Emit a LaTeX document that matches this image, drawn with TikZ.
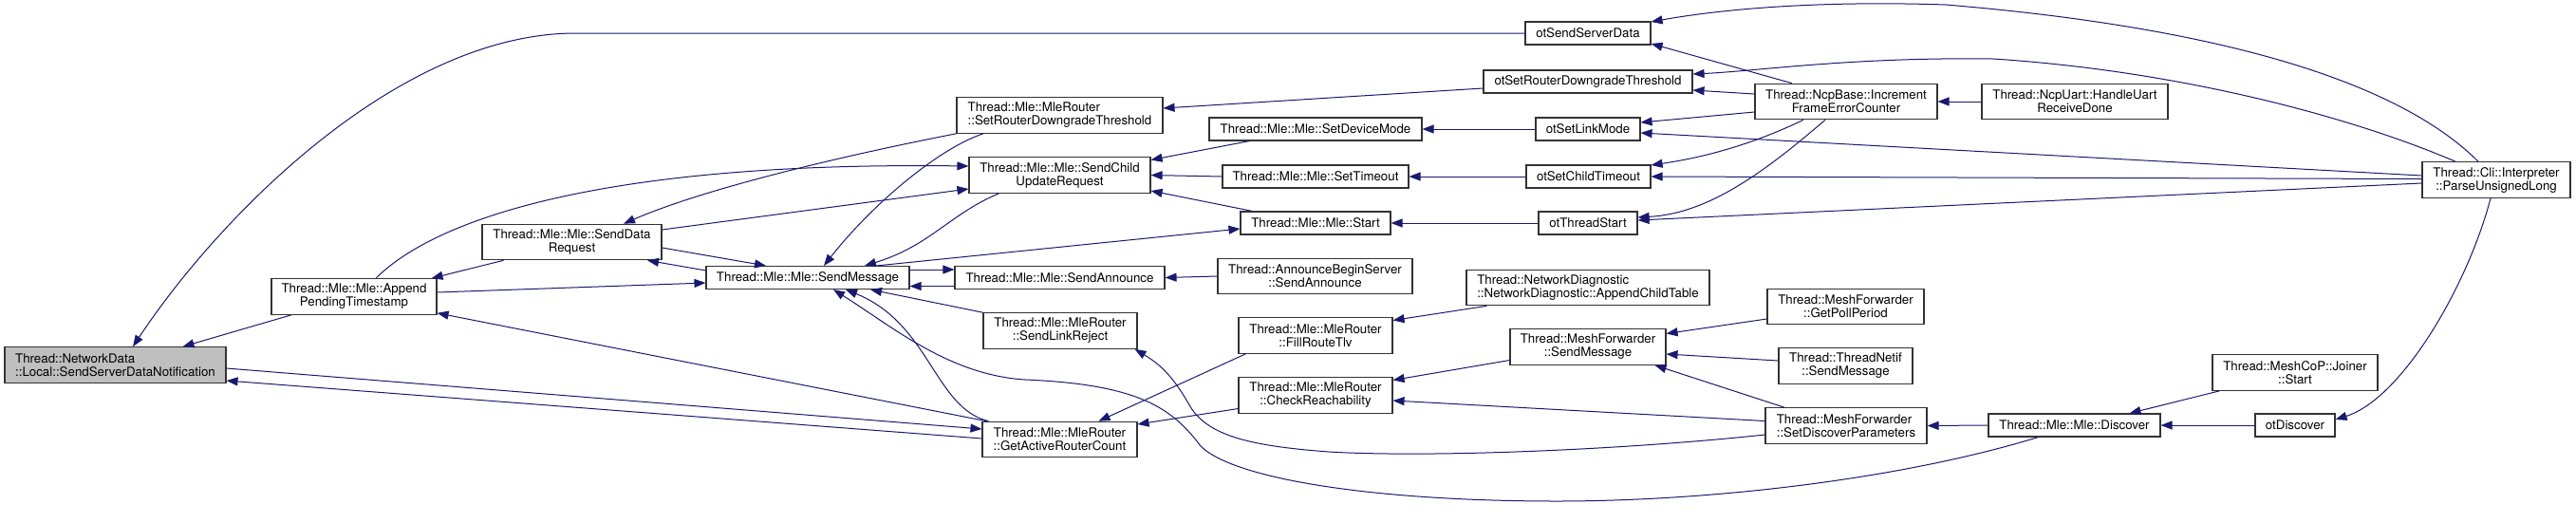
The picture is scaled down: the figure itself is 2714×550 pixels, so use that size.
\documentclass[tikz,border=0pt]{standalone}
\usepackage{fontspec}
\setmainfont{TeX Gyre Heros}
\usetikzlibrary{arrows.meta,calc}
\definecolor{EdgeBlue}{HTML}{191970}
\definecolor{CurGray}{HTML}{BFBFBF}

\begin{document}
\begin{tikzpicture}[x=1pt,y=-1pt,
  fn/.style={draw=black!80,line width=1.1pt,fill=white,inner sep=2pt,
    minimum height=24pt,align=center,font=\fontsize{13.3}{14}\selectfont},
  fn2/.style={fn,minimum height=37.5pt},
  cur/.style={fn2,fill=CurGray,align=left},
  call/.style={draw=EdgeBlue,line width=1pt,-{Triangle[length=12pt,width=9pt]}}]
  \fill[white] (0,0) rectangle (2714,550);
  \useasboundingbox (0,0) rectangle (2714,550);

  \node[cur,minimum width=233pt] (ssdn) at (121.5,384.5) {Thread::NetworkData\\::Local::SendServerDataNotification};
  \node[fn2,minimum width=174pt] (append) at (373,312.5) {Thread::Mle::Mle::Append\\PendingTimestamp};
  \node[fn2,minimum width=189pt] (sdr) at (602.5,255) {Thread::Mle::Mle::SendData\\Request};
  \node[fn,minimum width=214pt] (smsg) at (851,292.5) {Thread::Mle::Mle::SendMessage};
  \node[fn2,align=left,minimum width=217pt] (mrsrdt) at (1116.5,121.5) {Thread::Mle::MleRouter\\::SetRouterDowngradeThreshold};
  \node[fn2,minimum width=191pt] (scur) at (1116.5,184.5) {Thread::Mle::Mle::SendChild\\UpdateRequest};
  \node[fn,minimum width=221pt] (sann) at (1116.5,292.5) {Thread::Mle::Mle::SendAnnounce};
  \node[fn2,minimum width=162pt] (slr) at (1117,348.5) {Thread::Mle::MleRouter\\::SendLinkReject};
  \node[fn2,minimum width=163pt] (garc) at (1116.5,463) {Thread::Mle::MleRouter\\::GetActiveRouterCount};
  \node[fn,minimum width=224pt] (sdm) at (1386,136) {Thread::Mle::Mle::SetDeviceMode};
  \node[fn,minimum width=196pt] (sto) at (1386,186) {Thread::Mle::Mle::SetTimeout};
  \node[fn,minimum width=158pt] (mstart) at (1386,235) {Thread::Mle::Mle::Start};
  \node[fn2,minimum width=205pt] (abs) at (1385.5,291) {Thread::AnnounceBeginServer\\::SendAnnounce};
  \node[fn2,minimum width=162pt] (frt) at (1386,353.5) {Thread::Mle::MleRouter\\::FillRouteTlv};
  \node[fn2,minimum width=162pt] (crch) at (1386,416.5) {Thread::Mle::MleRouter\\::CheckReachability};
  \node[fn,minimum width=132pt] (otssd) at (1673,35) {otSendServerData};
  \node[fn,minimum width=220pt] (otsrdt) at (1673,86) {otSetRouterDowngradeThreshold};
  \node[fn,minimum width=110pt] (otslm) at (1673,136) {otSetLinkMode};
  \node[fn,minimum width=131pt] (otsct) at (1673.5,186) {otSetChildTimeout};
  \node[fn,minimum width=104pt] (otts) at (1673,235) {otThreadStart};
  \node[fn2,align=left,minimum width=256pt] (nd) at (1673,303) {Thread::NetworkDiagnostic\\::NetworkDiagnostic::AppendChildTable};
  \node[fn2,minimum width=164pt] (mfsm) at (1673,365.5) {Thread::MeshForwarder\\::SendMessage};
  \node[fn2,minimum width=192pt] (ifec) at (1945,107) {Thread::NcpBase::Increment\\FrameErrorCounter};
  \node[fn2,minimum width=165pt] (gpp) at (1944.5,323) {Thread::MeshForwarder\\::GetPollPeriod};
  \node[fn2,minimum width=141pt] (tnsm) at (1944.5,385.5) {Thread::ThreadNetif\\::SendMessage};
  \node[fn2,align=left,minimum width=170pt] (sdp) at (1945,448.5) {Thread::MeshForwarder\\::SetDiscoverParameters};
  \node[fn2,minimum width=196pt] (uart) at (2186,107) {Thread::NcpUart::HandleUart\\ReceiveDone};
  \node[fn,minimum width=181pt] (disc) at (2185.5,448) {Thread::Mle::Mle::Discover};
  \node[fn2,minimum width=174pt] (joiner) at (2418,392.5) {Thread::MeshCoP::Joiner\\::Start};
  \node[fn,minimum width=84pt] (otdisc) at (2418,448) {otDiscover};
  \node[fn2,minimum width=156pt] (pul) at (2630,189.5) {Thread::Cli::Interpreter\\::ParseUnsignedLong};

  \draw[call] (otssd.west) -- ++(-1000,0) .. controls +(-187,0) and +(90,-136) .. ($(ssdn.north)+(18.5,0)$);
  \draw[call] ($(append.south)+(-66,0)$) -- ($(ssdn.north)+(71,0)$);
  \draw[call] ($(garc.west)+(0,-1)$) -- ($(ssdn.east)+(0,16.5)$);
  \draw[call] ($(ssdn.east)+(0,3.5)$) -- ($(garc.west)+(0,-11)$);
  \draw[call] ($(sdr.south)+(-72,0)$) -- ($(append.north east)+(-6,0)$);
  \draw[call] ($(append.east)+(0,-4.5)$) -- ($(smsg.west)+(0,5.5)$);
  \draw[call] ($(garc.north west)+(5,0)$) -- ($(append.south east)+(0,-2)$);
  \draw[call] ($(append.north)+(23,0)$) .. controls +(64,-64) and +(-381,-5) .. ($(scur.west)+(0,-9.5)$);
  \draw[call] ($(sdr.east)+(0,-13)$) -- ($(scur.west)+(0,14.5)$);
  \draw[call] (mrsrdt.south west) .. controls +(-128,25) and +(83,-36) .. ($(sdr.north)+(54.5,0)$);
  \draw[call] ($(sdr.east)+(0,6)$) -- ($(smsg.north)+(-44,0)$);
  \draw[call] ($(smsg.north west)+(0,5)$) -- ($(sdr.south)+(79.5,0)$);
  \draw[call] ($(mrsrdt.south)+(-80.5,0)$) .. controls +(-46,15) and +(52,-66) .. ($(smsg.north)+(17,0)$);
  \draw[call] ($(scur.south)+(-64,0)$) .. controls +(-52.5,22) and +(69,-21) .. ($(smsg.north)+(60,0)$);
  \draw[call] ($(smsg.north east)+(-35,0)$) -- ($(mstart.west)+(0,6)$);
  \draw[call] ($(smsg.east)+(0,-8.5)$) -- ($(sann.west)+(0,-8.5)$);
  \draw[call] ($(sann.west)+(0,9)$) -- ($(smsg.east)+(0,9)$);
  \draw[call] (slr.north west) -- ($(smsg.south)+(66,0)$);
  \draw[call] ($(garc.north west)+(7,0)$) .. controls +(-57,-14) and +(89,36) .. ($(smsg.south)+(40,0)$);
  \draw[call] ($(disc.south)+(-38,0)$) .. controls +(-147.5,45) and +(160,0) .. (1640,528)
    .. controls +(-190,0) and +(35,35) .. (1265,470) .. controls +(-30,-40) and +(120,5) .. (1080,400)
    .. controls +(-80,-5) and +(62,39) .. ($(smsg.south)+(27,0)$);
  \draw[call] ($(sdm.south west)+(43,0)$) -- ($(scur.east)+(0,-16)$);
  \draw[call] (sto.west) -- (scur.east);
  \draw[call] ($(mstart.north west)+(13,0)$) -- ($(scur.east)+(0,16.5)$);
  \draw[call] ($(otsrdt.west)+(0,7)$) -- ($(mrsrdt.east)+(0,-7.5)$);
  \draw[call] (otslm.west) -- (sdm.east);
  \draw[call] (otsct.west) -- (sto.east);
  \draw[call] (otts.west) -- (mstart.east);
  \draw[call] (abs.west) -- (sann.east);
  \draw[call] ($(nd.south west)+(22,0)$) -- ($(frt.east)+(0,-16)$);
  \draw[call] ($(frt.south west)+(8,0)$) -- ($(garc.north)+(41,0)$);
  \draw[call] ($(crch.west)+(0,14)$) -- ($(garc.east)+(0,-16)$);
  \draw[call] ($(mfsm.west)+(0,14)$) -- ($(crch.east)+(0,-16)$);
  \draw[call] ($(sdp.west)+(0,-5)$) -- ($(crch.east)+(0,5.5)$);
  \draw[call] ($(sdp.west)+(0,9.5)$) .. controls +(-160,17) and +(100,6) .. (1400,476)
    .. controls +(-80,-6) and +(20,30) .. (1255,430) .. controls +(-17,-30) and +(30,18) .. ($(slr.south east)+(-3,0)$);
  \draw[call] ($(gpp.west)+(0,13)$) -- ($(mfsm.east)+(0,-14)$);
  \draw[call] ($(tnsm.west)+(0,-5.5)$) -- ($(mfsm.east)+(0,7.5)$);
  \draw[call] ($(sdp.north)+(-65,0)$) -- ($(mfsm.south east)+(-12,0)$);
  \draw[call] (disc.west) -- (sdp.east);
  \draw[call] ($(joiner.south west)+(8,0)$) -- ($(disc.north)+(58,0)$);
  \draw[call] (otdisc.west) -- (disc.east);
  \draw[call] ($(pul.south)+(-6,0)$) .. controls +(-24,92) and +(70,-22) .. ($(otdisc.east)+(0,-6)$);
  \draw[call] ($(pul.north)+(-19,0)$) .. controls +(-81,-81) and +(300,25) .. (2050,5)
    .. controls +(-150,-5) and +(61,-11) .. ($(otssd.east)+(0,-12)$);
  \draw[call] ($(pul.north)+(-43,0)$) .. controls +(-107,-46) and +(200,13) .. (2100,62)
    .. controls +(-150,-2) and +(67,-3) .. ($(otsrdt.east)+(0,-8)$);
  \draw[call] ($(ifec.north)+(-57,0)$) -- ($(otssd.east)+(0,11)$);
  \draw[call] ($(ifec.west)+(0,-8)$) -- ($(otsrdt.east)+(0,9)$);
  \draw[call] ($(ifec.west)+(0,11)$) -- ($(otslm.east)+(0,-7)$);
  \draw[call] ($(ifec.south)+(-45,0)$) .. controls +(-50,24) and +(61,-9) .. ($(otsct.east)+(0,-12)$);
  \draw[call] ($(ifec.south)+(-22,0)$) .. controls +(-63,54) and +(75,-4) .. ($(otts.east)+(0,-6)$);
  \draw[call] ($(pul.west)+(0,-4.5)$) -- ($(otslm.east)+(0,4)$);
  \draw[call] ($(pul.west)+(0,-1)$) -- (otsct.east);
  \draw[call] ($(pul.west)+(0,3.5)$) -- ($(otts.east)+(0,-3)$);
  \draw[call] (uart.west) -- (ifec.east);
\end{tikzpicture}
\end{document}
